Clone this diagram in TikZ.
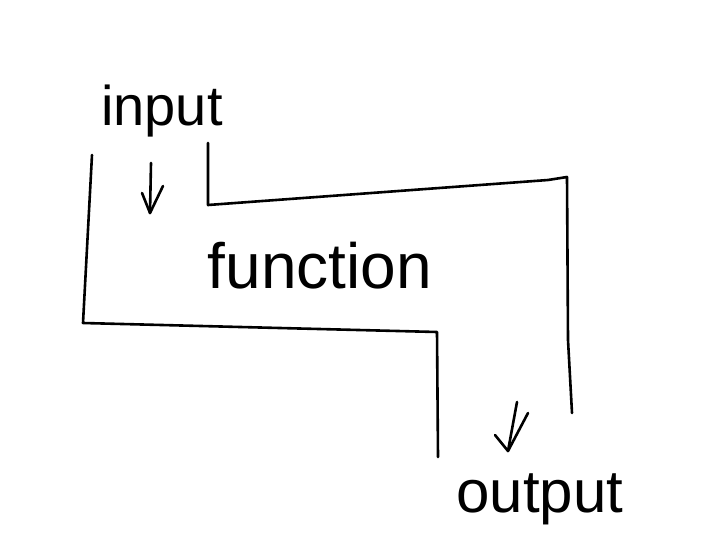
\documentclass[tikz,border=0pt]{standalone}
\usepackage{fontspec}
\setmainfont{Liberation Sans}
\begin{document}
\begin{tikzpicture}[x=1pt,y=-1pt,
  pen/.style={line width=2.6pt,line cap=round,line join=round,black},
  lbl/.style={inner sep=0pt,anchor=base}]
\useasboundingbox (0,0) rectangle (717,551);
% text
\node[lbl,font=\fontsize{56}{56}\selectfont] (in) at (162,125) {input};
\node[lbl,font=\fontsize{64}{64}\selectfont] (fn) at (320,288) {function};
\node[lbl,font=\fontsize{60}{60}\selectfont] (out) at (540,512) {output};
% left channel wall
\coordinate (l1) at (92,155);
\coordinate (l2) at (83,323);
\coordinate (l3) at (437,332);
\coordinate (l4) at (438,457);
\draw[pen] (l1) -- (l2) -- (l3) -- (l4);
% right channel wall
\coordinate (r1) at (208,143);
\coordinate (r2) at (208,205);
\coordinate (r3) at (548,180);
\coordinate (r4) at (567,177);
\coordinate (r5) at (568,340);
\coordinate (r6) at (572,413);
\draw[pen] (r1) -- (r2) -- (r3) -- (r4) -- (r5) -- (r6);
% input arrow
\coordinate (a1) at (151,163);
\coordinate (a2) at (150,213);
\coordinate (a3) at (142,193);
\coordinate (a4) at (163,186);
\draw[pen] (a1) -- (a2);
\draw[pen] (a3) -- (a2) -- (a4);
% output arrow
\coordinate (b1) at (517,402);
\coordinate (b2) at (508,451);
\coordinate (b3) at (495,435);
\coordinate (b4) at (528,413);
\draw[pen] (b1) -- (b2);
\draw[pen] (b3) -- (b2) -- (b4);
\end{tikzpicture}
\end{document}
